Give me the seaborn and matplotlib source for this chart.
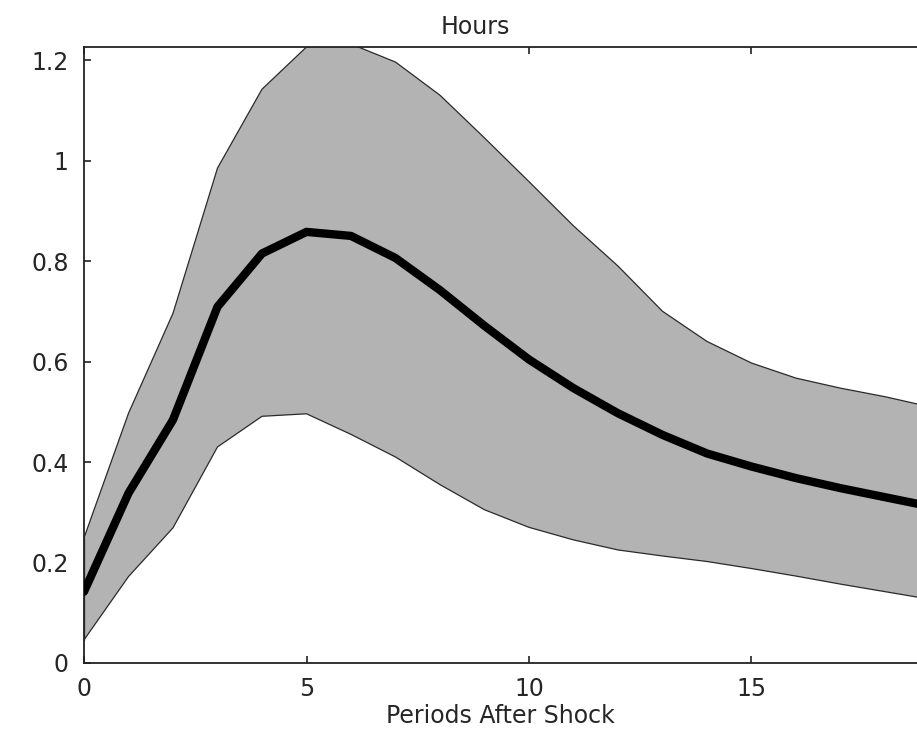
import matplotlib
matplotlib.use("Agg")
import matplotlib.pyplot as plt
import seaborn as sns
import pandas as pd

# Impulse response of hours and its confidence band
periods = list(range(20))
response = [0.142, 0.338, 0.484, 0.709, 0.815, 0.858, 0.850, 0.806, 0.742, 0.671,
            0.604, 0.547, 0.497, 0.454, 0.417, 0.391, 0.368, 0.348, 0.330, 0.312]
upper = [0.249, 0.497, 0.696, 0.985, 1.142, 1.226, 1.232, 1.196, 1.130, 1.045,
         0.958, 0.870, 0.790, 0.700, 0.640, 0.597, 0.567, 0.547, 0.530, 0.510]
lower = [0.046, 0.172, 0.269, 0.430, 0.491, 0.496, 0.455, 0.410, 0.355, 0.305,
         0.270, 0.245, 0.225, 0.213, 0.202, 0.188, 0.173, 0.157, 0.142, 0.127]
xticks = [0, 5, 10, 15]
yticks = [0, 0.2, 0.4, 0.6, 0.8, 1.0, 1.2]
ytick_labels = ["0", "0.2", "0.4", "0.6", "0.8", "1", "1.2"]

df = pd.DataFrame({"period": periods, "response": response,
                   "upper": upper, "lower": lower})

sns.set_style("ticks")
plt.rcParams["font.family"] = ["DejaVu Sans"]
plt.rcParams["xtick.direction"] = "in"
plt.rcParams["ytick.direction"] = "in"

W, H = 917, 735
fig = plt.figure(figsize=(W / 100, H / 100), dpi=100)
ax = fig.add_axes([84 / W, (H - 663) / H, (W - 84) / W, (663 - 47) / H])

ax.fill_between(df["period"], df["lower"], df["upper"], facecolor="#b3b3b3",
                edgecolor="none", zorder=1)
sns.lineplot(data=df, x="period", y="upper", ax=ax, color="#2a2a2a",
             linewidth=0.9, zorder=2)
sns.lineplot(data=df, x="period", y="lower", ax=ax, color="#2a2a2a",
             linewidth=0.9, zorder=2)
ax.plot([0, 0], [lower[0], upper[0]], color="#2a2a2a", linewidth=0.9, zorder=2)
sns.lineplot(data=df, x="period", y="response", ax=ax, color="black",
             linewidth=6.0, solid_capstyle="round", zorder=3)

ax.set_xlim(0, (W - 84) / 44.5)
ax.set_ylim(0, 1.226)
ax.set_xticks(xticks)
ax.set_yticks(yticks)
ax.set_yticklabels(ytick_labels)
ax.tick_params(axis="both", labelsize=17, length=5, width=1.2, color="#222222",
               top=True, right=False, pad=11)
ax.tick_params(axis="x", pad=10)

for side in ["left", "bottom", "top"]:
    ax.spines[side].set_linewidth(1.3)
    ax.spines[side].set_color("#222222")
ax.spines["right"].set_visible(False)

ax.set_xlabel("Periods After Shock", fontsize=17, labelpad=2)
ax.set_ylabel("")
ax.set_title("Hours", fontsize=17, x=(475 - 84) / (W - 84), pad=9)

fig.savefig("out.png", dpi=100, facecolor="white")
